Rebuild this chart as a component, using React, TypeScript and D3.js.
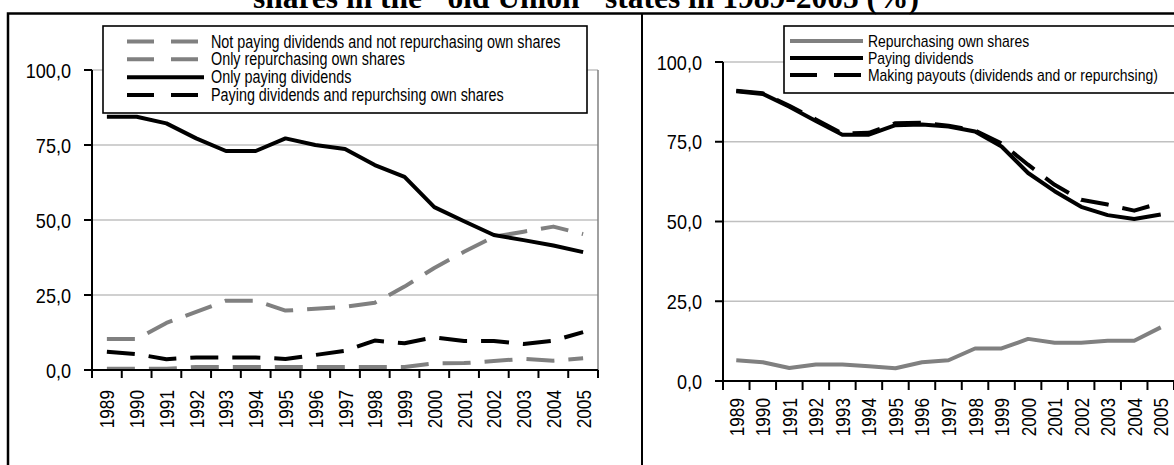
import React, { useEffect, useRef } from "react";
import * as d3 from "d3";

// ---------- data ----------
const years = [
  "1989", "1990", "1991", "1992", "1993", "1994", "1995", "1996", "1997",
  "1998", "1999", "2000", "2001", "2002", "2003", "2004", "2005",
];

// left panel
const notPayingNotRepurchasing = [10.3, 10.3, 15.7, 19.4, 23.1, 23.1, 19.8, 20.4, 21.1, 22.4, 27.8, 34.0, 39.4, 44.4, 46.1, 47.8, 45.3];
const onlyRepurchasing = [0.4, 0.4, 0.4, 1.0, 1.0, 1.0, 1.0, 1.0, 1.0, 1.0, 1.0, 2.2, 2.3, 3.0, 3.7, 3.1, 3.9];
const onlyPayingDividends = [84.4, 84.4, 82.2, 77.2, 73.0, 73.0, 77.2, 75.0, 73.7, 68.3, 64.4, 54.3, 49.6, 45.0, 43.3, 41.5, 39.3];
const payingAndRepurchasing = [6.1, 5.3, 3.6, 4.2, 4.2, 4.2, 3.7, 5.0, 6.4, 9.8, 8.9, 10.9, 9.7, 9.7, 8.7, 9.8, 12.6];

// right panel
const repurchasingOwnShares = [6.5, 5.9, 4.1, 5.2, 5.2, 4.6, 4.0, 5.9, 6.5, 10.2, 10.2, 13.2, 12.0, 12.0, 12.6, 12.6, 16.8];
const payingDividends = [90.8, 90.0, 86.0, 81.5, 77.2, 77.2, 80.2, 80.4, 79.8, 78.2, 73.5, 65.2, 59.5, 54.6, 52.0, 50.8, 52.2];
const makingPayouts = [91.0, 90.2, 86.3, 82.0, 77.6, 77.8, 80.8, 81.0, 80.0, 78.5, 74.5, 67.8, 61.5, 56.8, 55.3, 53.4, 55.8];

const yTickValues = [0, 25, 50, 75, 100];

const titleText = 'shares in the "old Union" states in 1989-2005 (%)';
const leftLabels = [
  "Not paying dividends and not repurchasing own shares",
  "Only repurchasing own shares",
  "Only paying dividends",
  "Paying dividends and repurchsing own shares",
];
const rightLabels = [
  "Repurchasing own shares",
  "Paying dividends",
  "Making payouts (dividends and or repurchsing)",
];

// ---------- styles ----------
const GRAY = "#808080";
const BLACK = "#000000";
const GRID = "#c0c0c0";
const DASH = "28,14";
const LEGEND_DASH = "27,17";
const FONT = "'Liberation Sans', Arial, sans-serif";

type Series = { label: string; values: number[]; color: string; dash?: string };

const leftSeries: Series[] = [
  { label: leftLabels[0], values: notPayingNotRepurchasing, color: GRAY, dash: DASH },
  { label: leftLabels[1], values: onlyRepurchasing, color: GRAY, dash: DASH },
  { label: leftLabels[2], values: onlyPayingDividends, color: BLACK },
  { label: leftLabels[3], values: payingAndRepurchasing, color: BLACK, dash: DASH },
];
const rightSeries: Series[] = [
  { label: rightLabels[0], values: repurchasingOwnShares, color: GRAY },
  { label: rightLabels[1], values: payingDividends, color: BLACK },
  { label: rightLabels[2], values: makingPayouts, color: BLACK, dash: DASH },
];

const fmt = (v: number) => d3.format(".1f")(v).replace(".", ",");

type PanelProps = {
  series: Series[];
  x0: number;
  x1: number;
  yBottom: number;
  yTop: number;
  rightBorder: boolean;
  xLabelTop: number;
  xTickLen: number;
  legend: { x: number; y: number; w: number; h: number; rows: number[]; lx0: number; lx1: number; tx: number; fs: number };
};

function Panel(p: PanelProps) {
  const x = d3.scaleBand<string>().domain(years).range([p.x0, p.x1]);
  const y = d3.scaleLinear().domain([0, 100]).range([p.yBottom, p.yTop]);
  const cx = (yr: string) => (x(yr) as number) + x.bandwidth() / 2;
  const line = d3
    .line<number>()
    .x((_, i) => cx(years[i]))
    .y((v) => y(v));
  const boundaries = d3.range(years.length + 1).map((k) => p.x0 + k * x.bandwidth());
  const L = p.legend;
  return (
    <g>
      {yTickValues
        .filter((v) => v > 0)
        .map((v) => (
          <line key={"g" + v} x1={p.x0} x2={p.x1} y1={y(v)} y2={y(v)} stroke={GRID} strokeWidth={1.5} />
        ))}
      {p.rightBorder && (
        <line x1={p.x1} x2={p.x1} y1={y(100)} y2={y(0)} stroke={GRAY} strokeWidth={1.5} />
      )}
      {p.series.map((s, i) => (
        <path
          key={"s" + i}
          d={line(s.values) || ""}
          fill="none"
          stroke={s.color}
          strokeWidth={4}
          strokeDasharray={s.dash}
          strokeLinejoin="round"
        />
      ))}
      {/* axes */}
      <line x1={p.x0} x2={p.x0} y1={y(100)} y2={y(0)} stroke={BLACK} strokeWidth={2} />
      <line x1={p.x0 - 8} x2={p.x1} y1={y(0)} y2={y(0)} stroke={BLACK} strokeWidth={2} />
      {yTickValues.map((v) => (
        <g key={"yt" + v}>
          <line x1={p.x0 - 8} x2={p.x0} y1={y(v)} y2={y(v)} stroke={BLACK} strokeWidth={2} />
          <text className="narrow axisnum" x={p.x0 - 21} y={y(v) + 7.5} textAnchor="end" fontSize={21} fontFamily={FONT}>
            {fmt(v)}
          </text>
        </g>
      ))}
      {boundaries.map((bx, k) => (
        <line key={"xt" + k} x1={bx} x2={bx} y1={y(0)} y2={y(0) + p.xTickLen} stroke={BLACK} strokeWidth={2} />
      ))}
      {years.map((yr) => (
        <text
          key={"xl" + yr}
          className="narrow"
          transform={`translate(${cx(yr) + 7.5},${p.xLabelTop}) rotate(-90)`}
          textAnchor="end"
          fontSize={21}
          fontFamily={FONT}
        >
          {yr}
        </text>
      ))}
      {/* legend */}
      <rect x={L.x} y={L.y} width={L.w} height={L.h} fill="#fff" stroke={BLACK} strokeWidth={1.6} />
      {p.series.map((s, i) => (
        <g key={"lg" + i}>
          <line
            x1={L.lx0}
            x2={L.lx1}
            y1={L.rows[i]}
            y2={L.rows[i]}
            stroke={s.color}
            strokeWidth={4}
            strokeDasharray={s.dash ? LEGEND_DASH : undefined}
          />
          <text className="narrow" x={L.tx} y={L.rows[i] + L.fs * 0.35} fontSize={L.fs} fontFamily={FONT}>
            {s.label}
          </text>
        </g>
      ))}
    </g>
  );
}

export default function App() {
  const ref = useRef<SVGSVGElement>(null);
  useEffect(() => {
    if (!ref.current) return;
    d3.select(ref.current)
      .selectAll<SVGTextElement, unknown>("text.narrow")
      .each(function () {
        const w = this.getComputedTextLength();
        const k = this.classList.contains("axisnum") ? 0.86 : 0.82;
        this.setAttribute("textLength", String(w * k));
        this.setAttribute("lengthAdjust", "spacingAndGlyphs");
      });
  }, []);
  return (
    <svg
      ref={ref}
      width={1174}
      height={465}
      style={{ position: "fixed", left: 0, top: 0, background: "#fff" }}
    >
      <rect x={0} y={0} width={1174} height={465} fill="#fff" />
      <text x={586} y={8} textAnchor="middle" fontFamily="'Liberation Serif', 'Times New Roman', serif" fontWeight="bold" fontSize={31.5}>
        {titleText}
      </text>
      <rect x={8} y={13.5} width={1180} height={470} fill="none" stroke={BLACK} strokeWidth={2.5} />
      <line x1={642} x2={642} y1={13} y2={470} stroke={BLACK} strokeWidth={2} />
      <Panel
        series={leftSeries}
        x0={92}
        x1={598}
        yBottom={370}
        yTop={70}
        rightBorder={true}
        xLabelTop={390}
        xTickLen={8}
        legend={{ x: 103, y: 26, w: 484, h: 87, rows: [41.5, 59.3, 77.2, 95], lx0: 127, lx1: 204, tx: 211, fs: 17.5 }}
      />
      <Panel
        series={rightSeries}
        x0={723}
        x1={1174}
        yBottom={381}
        yTop={62}
        rightBorder={false}
        xLabelTop={398}
        xTickLen={9}
        legend={{ x: 784, y: 26, w: 420, h: 67, rows: [41, 58, 75], lx0: 790, lx1: 863, tx: 868, fs: 17 }}
      />
    </svg>
  );
}
